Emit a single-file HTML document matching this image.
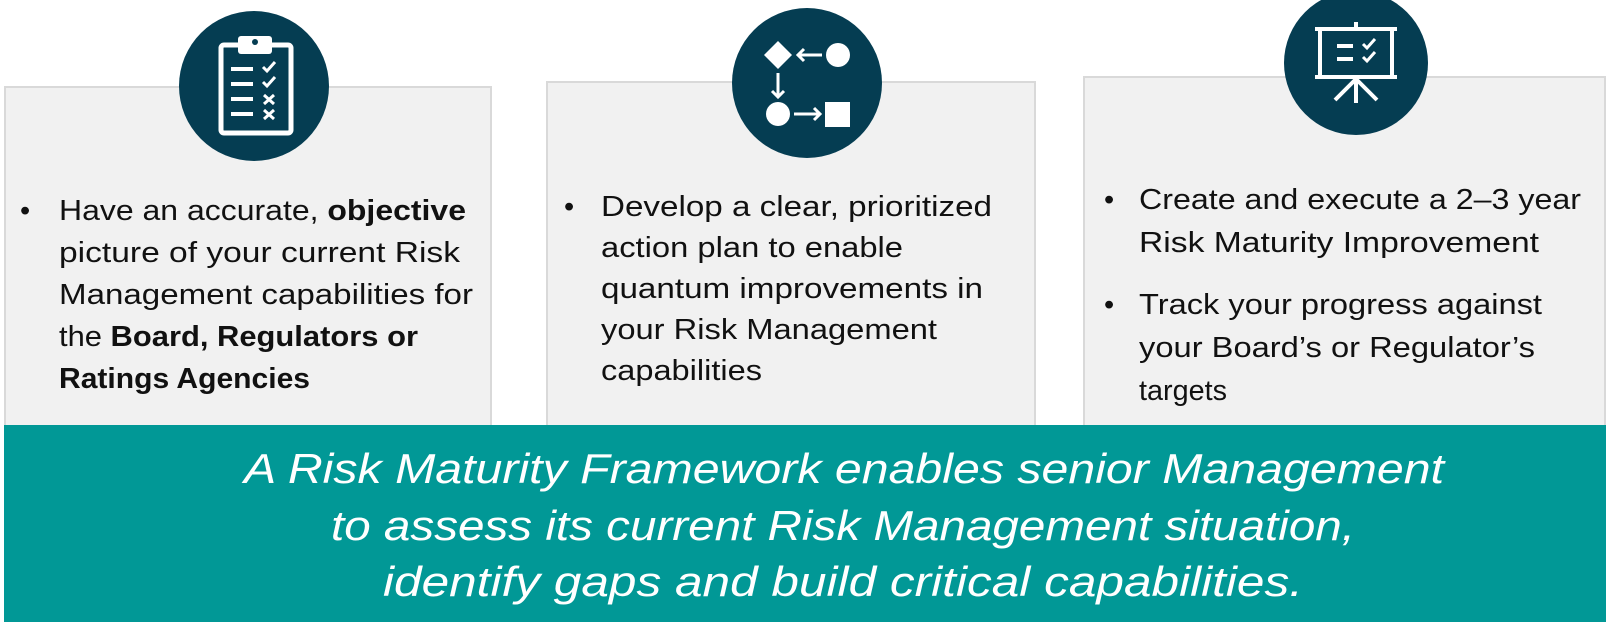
<!DOCTYPE html>
<html><head><meta charset="utf-8"><style>
html,body{margin:0;padding:0;background:#fff;}
svg{display:block;}
.t{font-family:"Liberation Sans",sans-serif;font-size:29px;fill:#111;}
.b{font-weight:bold;}
.w{font-family:"Liberation Sans",sans-serif;font-size:42px;font-style:italic;fill:#fff;}
</style></head><body>
<svg width="1611" height="627" viewBox="0 0 1611 627" xmlns="http://www.w3.org/2000/svg">
<rect x="5" y="87" width="486" height="345" fill="#f1f1f1" stroke="#d9d9d9" stroke-width="2"/>
<rect x="547" y="82" width="488" height="350" fill="#f1f1f1" stroke="#d9d9d9" stroke-width="2"/>
<rect x="1084" y="77" width="521" height="355" fill="#f1f1f1" stroke="#d9d9d9" stroke-width="2"/>
<rect x="4" y="425" width="1602" height="197" fill="#019896"/>
<circle cx="254" cy="86" r="75" fill="#053d52"/>
<circle cx="807" cy="83" r="75" fill="#053d52"/>
<circle cx="1356" cy="63" r="72" fill="#053d52"/>
<g fill="none" stroke="#fff" stroke-width="5" stroke-linejoin="round">
<rect x="221" y="45" width="70" height="88" rx="3"/>
</g>
<rect x="238" y="36" width="34" height="18" rx="3" fill="#fff"/>
<circle cx="255" cy="42" r="3" fill="#053d52"/>
<g stroke="#fff" stroke-width="4">
<line x1="231" y1="69" x2="253" y2="69"/><line x1="231" y1="84" x2="253" y2="84"/>
<line x1="231" y1="99" x2="253" y2="99"/><line x1="231" y1="114" x2="253" y2="114"/>
<polyline points="263,67 267,71 275,62" fill="none" stroke-width="3"/>
<polyline points="263,82 267,86 275,77" fill="none" stroke-width="3"/>
<path d="M264,95 L274,104 M274,95 L264,104" stroke-width="3"/>
<path d="M264,110 L274,119 M274,110 L264,119" stroke-width="3"/>
</g>
<g fill="#fff">
<polygon points="778,41 792,55 778,69 764,55"/>
<circle cx="838" cy="55" r="12"/>
<circle cx="778" cy="114" r="12"/>
<rect x="825" y="102" width="25" height="25"/>
</g>
<g stroke="#fff" stroke-width="3" fill="none">
<line x1="798" y1="55" x2="822" y2="55"/><polyline points="804,49 798,55 804,61"/>
<line x1="778" y1="73" x2="778" y2="97"/><polyline points="772,91 778,97 784,91"/>
<line x1="794" y1="114" x2="820" y2="114"/><polyline points="814,108 820,114 814,120"/>
</g>
<g stroke="#fff" stroke-width="4" fill="none" transform="translate(1356,62)">
<line x1="0" y1="-40" x2="0" y2="-33"/>
<line x1="-41" y1="-33" x2="41" y2="-33"/>
<rect x="-36" y="-33" width="72" height="48"/>
<line x1="-41" y1="15" x2="41" y2="15"/>
<line x1="0" y1="15" x2="0" y2="41"/>
<line x1="0" y1="17" x2="-21" y2="38"/>
<line x1="0" y1="17" x2="21" y2="38"/>
<line x1="-19" y1="-16" x2="-3" y2="-16"/>
<line x1="-19" y1="-3" x2="-3" y2="-3"/>
<polyline points="7,-18 11,-14 19,-23" stroke-width="3"/>
<polyline points="7,-5 11,-1 19,-10" stroke-width="3"/>
</g>
<g class="t">
<text x="20" y="220">•</text>
<text x="59" y="220" textLength="407" lengthAdjust="spacingAndGlyphs">Have an accurate, <tspan class="b">objective</tspan></text>
<text x="59" y="262" textLength="401" lengthAdjust="spacingAndGlyphs">picture of your current Risk</text>
<text x="59" y="304" textLength="414" lengthAdjust="spacingAndGlyphs">Management capabilities for</text>
<text x="59" y="346" textLength="359" lengthAdjust="spacingAndGlyphs">the <tspan class="b">Board, Regulators or</tspan></text>
<text x="59" y="388" class="t b" textLength="251" lengthAdjust="spacingAndGlyphs">Ratings Agencies</text>
</g>
<g class="t">
<text x="564" y="216">•</text>
<text x="601" y="216" textLength="391" lengthAdjust="spacingAndGlyphs">Develop a clear, prioritized</text>
<text x="601" y="257" textLength="302" lengthAdjust="spacingAndGlyphs">action plan to enable</text>
<text x="601" y="298" textLength="382" lengthAdjust="spacingAndGlyphs">quantum improvements in</text>
<text x="601" y="339" textLength="336" lengthAdjust="spacingAndGlyphs">your Risk Management</text>
<text x="601" y="380" textLength="161" lengthAdjust="spacingAndGlyphs">capabilities</text>
</g>
<g class="t">
<text x="1104" y="209">•</text>
<text x="1139" y="209" textLength="442" lengthAdjust="spacingAndGlyphs">Create and execute a 2–3 year</text>
<text x="1139" y="252" textLength="400" lengthAdjust="spacingAndGlyphs">Risk Maturity Improvement</text>
<text x="1104" y="314">•</text>
<text x="1139" y="314" textLength="403" lengthAdjust="spacingAndGlyphs">Track your progress against</text>
<text x="1139" y="357" textLength="396" lengthAdjust="spacingAndGlyphs">your Board’s or Regulator’s</text>
<text x="1139" y="400" textLength="88" lengthAdjust="spacingAndGlyphs">targets</text>
</g>
<g class="w">
<text x="244" y="483" textLength="1200" lengthAdjust="spacingAndGlyphs">A Risk Maturity Framework enables senior Management</text>
<text x="331" y="540" textLength="1024" lengthAdjust="spacingAndGlyphs">to assess its current Risk Management situation,</text>
<text x="383" y="596" textLength="920" lengthAdjust="spacingAndGlyphs">identify gaps and build critical capabilities.</text>
</g>
</svg>
</body></html>
